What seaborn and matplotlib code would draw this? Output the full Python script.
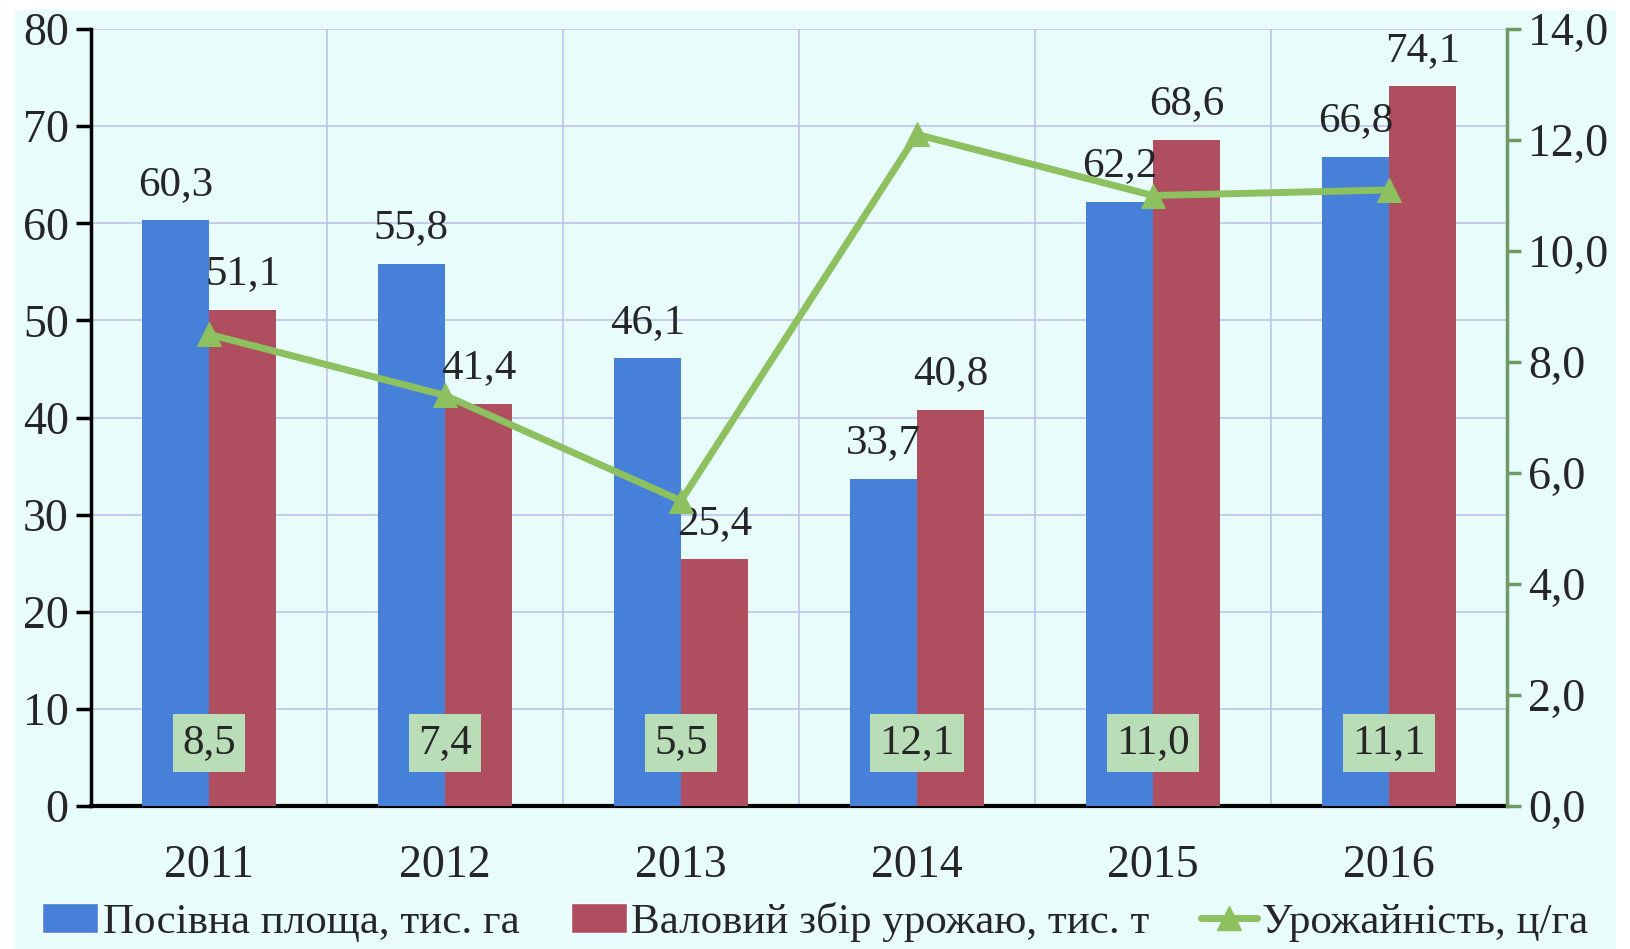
import numpy as np
import pandas as pd
import seaborn as sns
import matplotlib.pyplot as plt
from matplotlib.patches import Patch, Rectangle
from matplotlib.lines import Line2D
from matplotlib.ticker import FuncFormatter

years = ["2011", "2012", "2013", "2014", "2015", "2016"]
area = [60.3, 55.8, 46.1, 33.7, 62.2, 66.8]
harvest = [51.1, 41.4, 25.4, 40.8, 68.6, 74.1]
yield_ = [8.5, 7.4, 5.5, 12.1, 11.0, 11.1]

area_name = "Посівна площа, тис. га"
harvest_name = "Валовий збір урожаю, тис. т"
yield_name = "Урожайність, ц/га"

BG = "#E8FCFC"
BLUE = "#4680D8"
RED = "#AE4E5E"
GREEN = "#8DC05E"
BOX = "#B9DDB6"
GRID = "#BEC4EA"


def comma(v, fmt="{:.1f}"):
    return fmt.format(v).replace(".", ",")


df = pd.DataFrame({
    "year": years * 2,
    "value": area + harvest,
    "series": [area_name] * len(years) + [harvest_name] * len(years),
})

sns.set_style("white")
plt.rcParams["font.family"] = ["Liberation Serif", "DejaVu Serif"]

fig = plt.figure(figsize=(16.3, 9.49), dpi=100, facecolor="white")
fig.patches.append(Rectangle((15 / 1630, 0), 1601 / 1630, 939 / 949,
                             transform=fig.transFigure, facecolor=BG,
                             edgecolor="none", zorder=-10))
ax = fig.add_axes([0.0558, 0.1507, 0.8687, 0.8187])
ax.set_facecolor(BG)

sns.barplot(data=df, x="year", y="value", hue="series",
            palette=[BLUE, RED], width=0.57, gap=0, saturation=1,
            linewidth=0, edgecolor="none",
            legend=False, ax=ax, zorder=3)

for cont, vals in zip(ax.containers, [area, harvest]):
    ax.bar_label(cont, labels=[comma(v) for v in vals], padding=12,
                 fontsize=31, zorder=6)

ax.set_xlim(-0.5, len(years) - 0.5)
ax.set_ylim(0, 80)
ax.set_yticks(np.arange(0, 81, 10))
ax.set_xlabel("")
ax.set_ylabel("")
ax.set_xticks(np.arange(len(years) + 1) - 0.5, minor=True)
ax.grid(True, which="major", axis="y", color=GRID, lw=1.2, zorder=0)
ax.grid(True, which="minor", axis="x", color=GRID, lw=1.2, zorder=0)
ax.set_axisbelow(True)
ax.tick_params(axis="x", which="major", length=0, labelsize=33, pad=28)
ax.tick_params(axis="x", which="minor", length=14, width=2.5,
               direction="out", color="black")
ax.tick_params(axis="y", length=11, width=2.5, direction="out",
               labelsize=33, pad=5, color="black")
for side in ["top", "right"]:
    ax.spines[side].set_visible(False)
ax.spines["left"].set_linewidth(2.5)
ax.spines["bottom"].set_linewidth(3)
ax.spines["left"].set_color("black")
ax.spines["bottom"].set_color("black")

ax2 = ax.twinx()
pos = np.arange(len(years))
sns.lineplot(x=pos, y=yield_, ax=ax2, color=GREEN, lw=5, marker="^",
             markersize=17, markeredgecolor=GREEN, zorder=5)
ax2.set_ylim(0, 14)
ax2.set_yticks(np.arange(0, 14.1, 2))
ax2.yaxis.set_major_formatter(FuncFormatter(lambda v, p: comma(v)))
ax2.tick_params(axis="y", length=10, width=2.5, direction="out",
                labelsize=33, pad=5, color="#6E9A63")
ax2.spines["right"].set_color("#6E9A63")
ax2.spines["right"].set_linewidth(2.5)
for side in ["top", "left", "bottom"]:
    ax2.spines[side].set_visible(False)
ax2.grid(False)

for i, v in enumerate(yield_):
    ax.text(i, 6.5, comma(v), ha="center", va="center", fontsize=31,
            zorder=7,
            bbox=dict(boxstyle="square,pad=0.22", facecolor=BOX,
                      edgecolor="none"))

handles = [
    Patch(facecolor=BLUE, label=area_name),
    Patch(facecolor=RED, label=harvest_name),
    Line2D([0], [0], color=GREEN, lw=5, marker="^", markersize=17,
           label=yield_name),
]
fig.legend(handles=handles, loc="center", bbox_to_anchor=(0.5, 0.028),
           ncol=3, frameon=False, fontsize=31, handlelength=1.3,
           handletextpad=0.1, columnspacing=1.2)

fig.savefig("out.png", dpi=100, facecolor="white")
